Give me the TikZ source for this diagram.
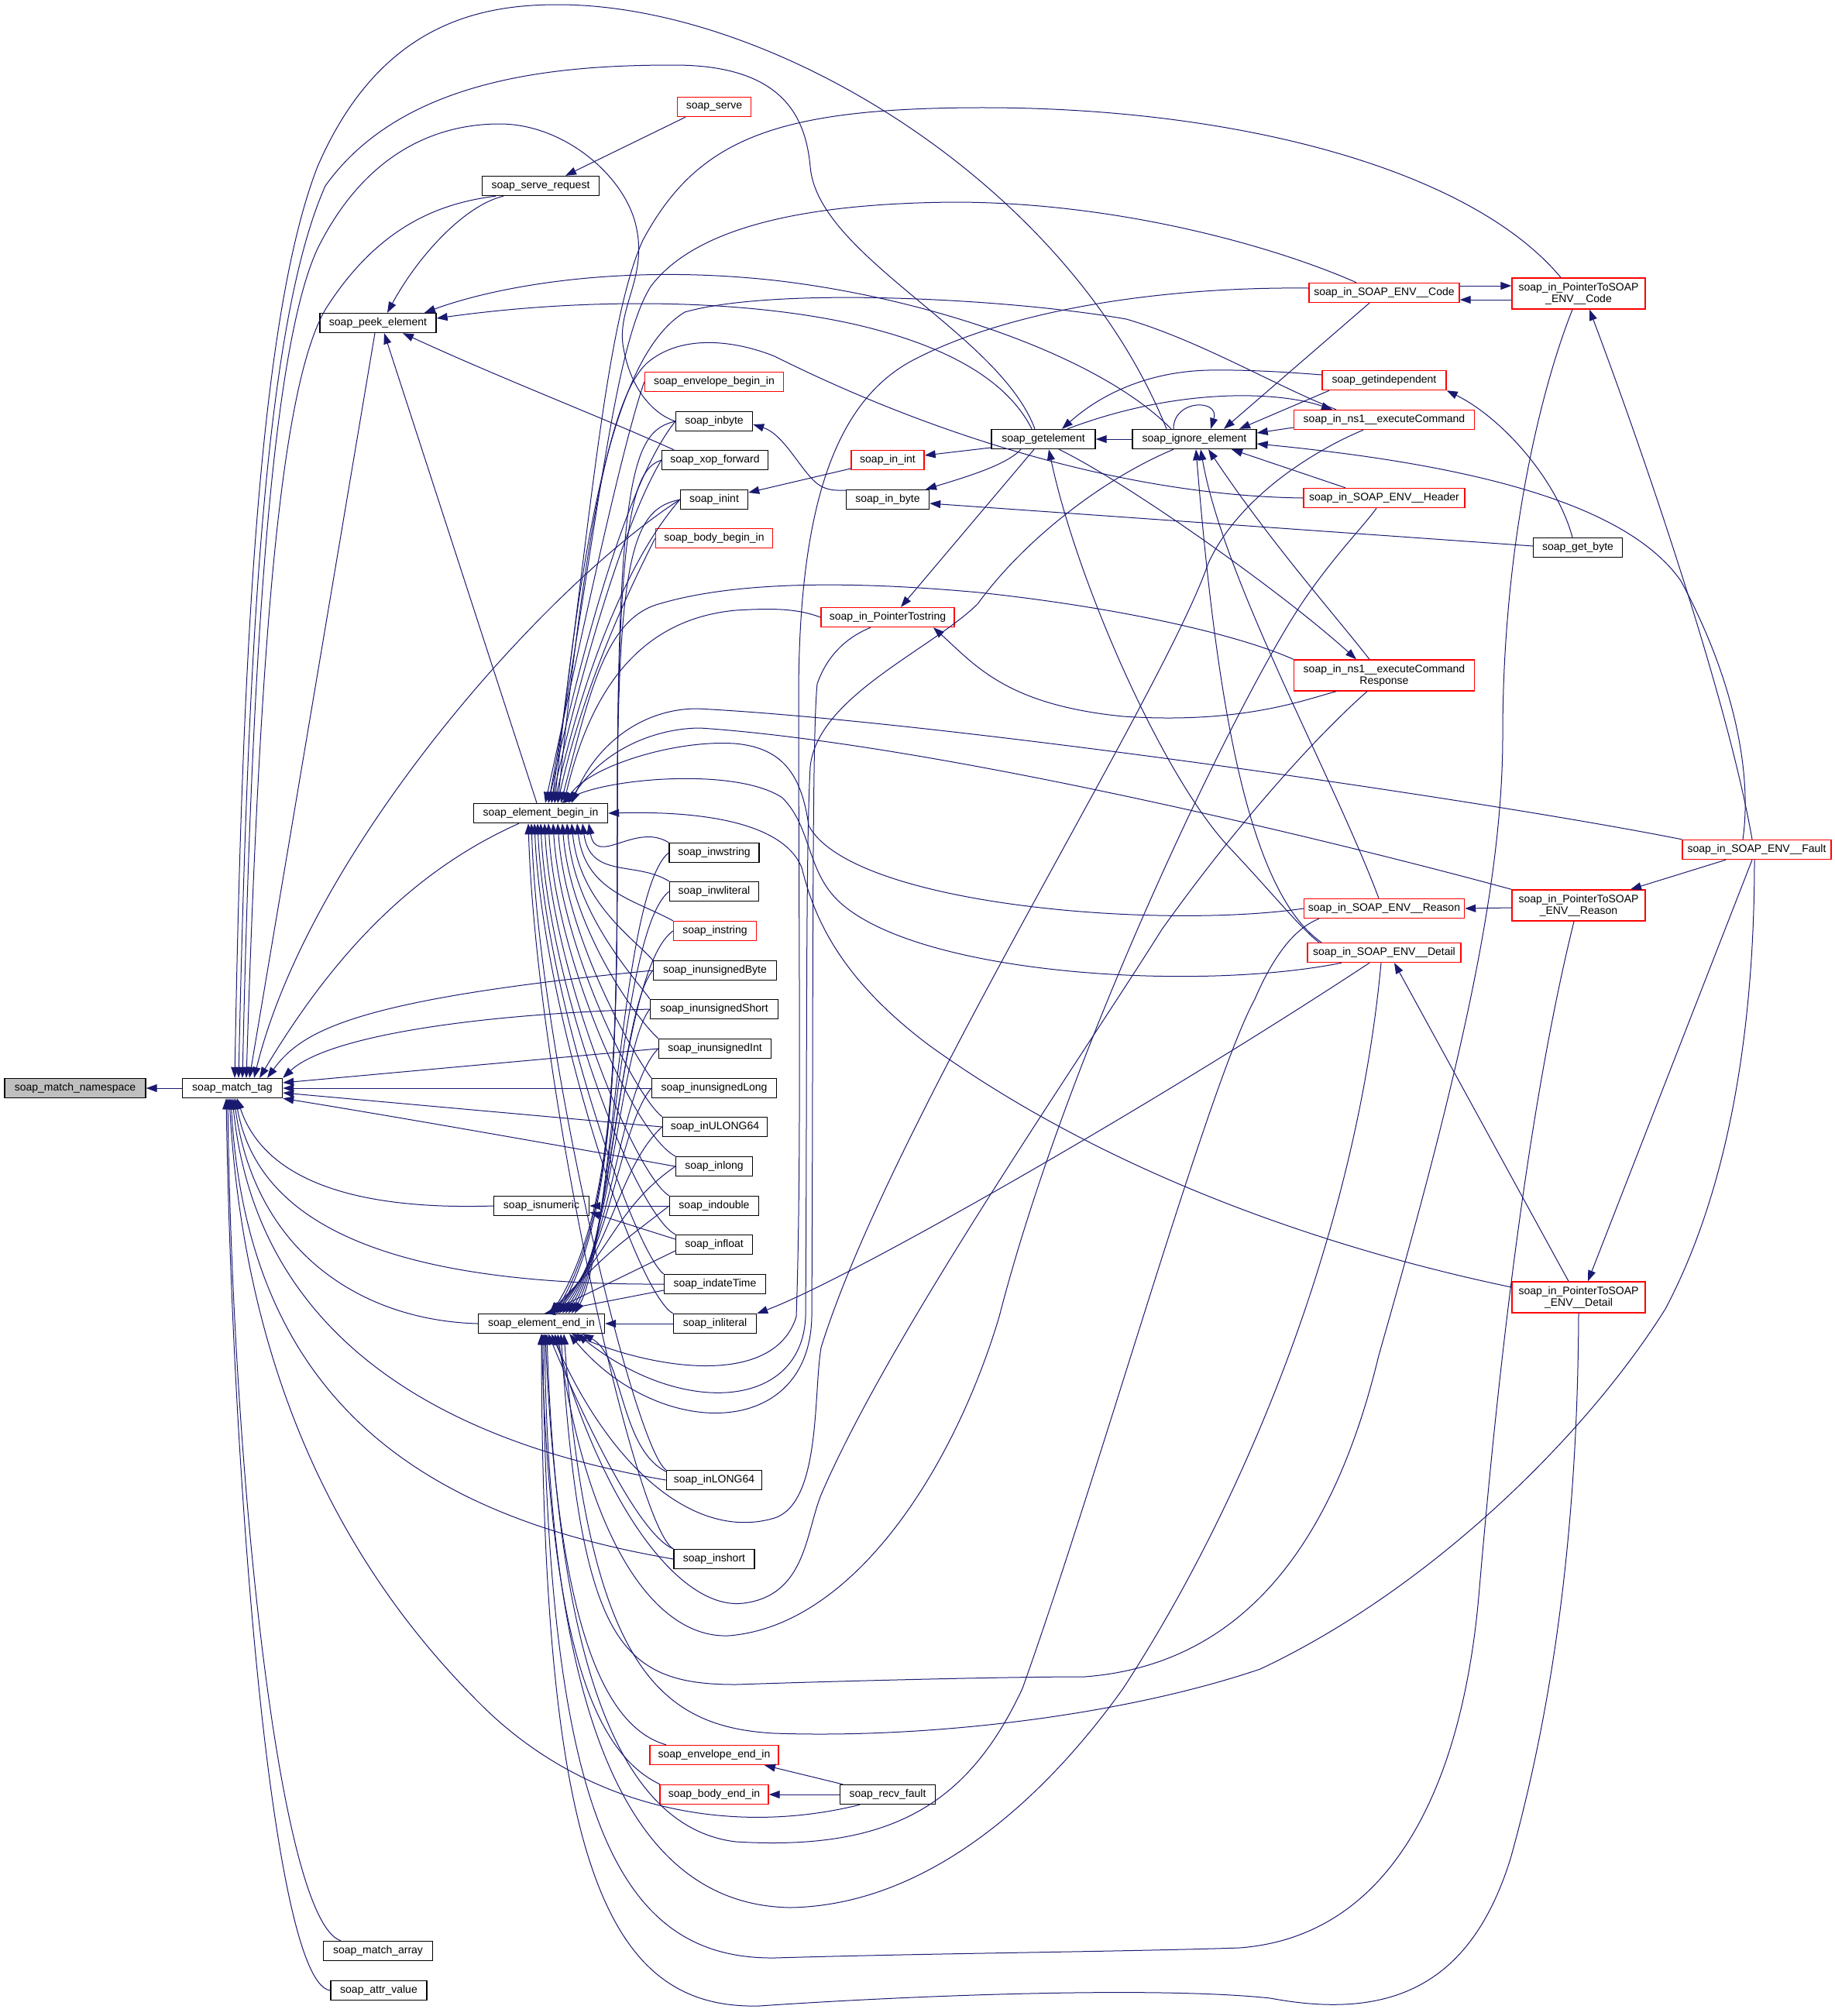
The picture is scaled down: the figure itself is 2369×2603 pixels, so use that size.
\documentclass[tikz,border=0pt]{standalone}
\usepackage{fontspec}
\setmainfont{Liberation Sans}
\usepackage{tikz}
\usetikzlibrary{arrows.meta}
\definecolor{kante}{HTML}{191970}
\definecolor{rand}{HTML}{FF0000}
\definecolor{grau}{HTML}{BFBFBF}

\begin{document}
\begin{tikzpicture}[x=0.5pt, y=-0.5pt,
    >={Triangle[length=7pt,width=5pt]},   %Pfeilspitzen
    fkt/.style={draw=black, line width=0.7pt, rectangle, inner sep=1pt, minimum height=12.5pt, font=\fontsize{7}{7.5}\selectfont},
    fktrot/.style={fkt, draw=rand},
    fktzwei/.style={fktrot, minimum height=20pt, align=center},
    aufruf/.style={draw=kante, line width=0.5pt, <-}]
  \useasboundingbox (0,0) rectangle (2369,2603);
  % Knoten links
  \node[fkt, fill=grau, minimum width=91pt] (ns) at (97,1405) {soap\_match\_namespace};
  \node[fkt, minimum width=64.5pt] (tag) at (300,1405) {soap\_match\_tag};
  \node[fkt, minimum width=75pt] (peek) at (488,417) {soap\_peek\_element};
  \node[fkt, minimum width=70.5pt] (marray) at (488,2519) {soap\_match\_array};
  \node[fkt, minimum width=62pt] (attrv) at (489,2570) {soap\_attr\_value};
  \node[fkt, minimum width=75.5pt] (servereq) at (698,240) {soap\_serve\_request};
  \node[fkt, minimum width=86.5pt] (begin) at (698,1050) {soap\_element\_begin\_in};
  \node[fkt, minimum width=61.5pt] (isnum) at (699,1557) {soap\_isnumeric};
  \node[fkt, minimum width=81.5pt] (endin) at (699,1709) {soap\_element\_end\_in};
  % Spalte der soap_in... Funktionen
  \node[fktrot, minimum width=47.5pt] (serve) at (922,138) {soap\_serve};
  \node[fktrot, minimum width=89.5pt] (envbeg) at (922,493) {soap\_envelope\_begin\_in};
  \node[fkt, minimum width=49.5pt] (inbyte) at (922,544) {soap\_inbyte};
  \node[fkt, minimum width=68.5pt] (xop) at (923,594) {soap\_xop\_forward};
  \node[fkt, minimum width=43.5pt] (inint) at (922,645) {soap\_inint};
  \node[fktrot, minimum width=75.5pt] (bodybeg) at (922,695) {soap\_body\_begin\_in};
  \node[fkt, minimum width=58pt] (inwstring) at (922,1101) {soap\_inwstring};
  \node[fkt, minimum width=57.5pt] (inwliteral) at (922,1151) {soap\_inwliteral};
  \node[fktrot, minimum width=53.5pt] (instring) at (923,1202) {soap\_instring};
  \node[fkt, minimum width=79.5pt] (inuByte) at (923,1253) {soap\_inunsignedByte};
  \node[fkt, minimum width=82.5pt] (inuShort) at (922,1303) {soap\_inunsignedShort};
  \node[fkt, minimum width=72.5pt] (inuInt) at (923,1354) {soap\_inunsignedInt};
  \node[fkt, minimum width=80.5pt] (inuLong) at (922,1405) {soap\_inunsignedLong};
  \node[fkt, minimum width=67.5pt] (inULONG) at (923,1455) {soap\_inULONG64};
  \node[fkt, minimum width=49.5pt] (inlong) at (922,1506) {soap\_inlong};
  \node[fkt, minimum width=57.5pt] (indouble) at (922,1557) {soap\_indouble};
  \node[fkt, minimum width=49.5pt] (infloat) at (922,1607) {soap\_infloat};
  \node[fkt, minimum width=65.5pt] (indate) at (923,1658) {soap\_indateTime};
  \node[fkt, minimum width=53.5pt] (inliteral) at (923,1709) {soap\_inliteral};
  \node[fkt, minimum width=61.5pt] (inLONG) at (922,1911) {soap\_inLONG64};
  \node[fkt, minimum width=52pt] (inshort) at (922,2013) {soap\_inshort};
  \node[fktrot, minimum width=83pt] (envend) at (922,2266) {soap\_envelope\_end\_in};
  \node[fktrot, minimum width=70pt] (bodyend) at (922,2317) {soap\_body\_end\_in};
  % Mitte
  \node[fkt, minimum width=61.5pt] (recvfault) at (1146,2317) {soap\_recv\_fault};
  \node[fktrot, minimum width=47pt] (inxint) at (1146,594) {soap\_in\_int};
  \node[fkt, minimum width=53.5pt] (inxbyte) at (1146,645) {soap\_in\_byte};
  \node[fktrot, minimum width=86pt] (ptrstr) at (1146,797) {soap\_in\_PointerTostring};
  \node[fkt, minimum width=67pt] (getel) at (1347,567) {soap\_getelement};
  \node[fkt, minimum width=80pt] (ignore) at (1542,567) {soap\_ignore\_element};
  % rechte Seite
  \node[fktrot, minimum width=97pt] (code) at (1787,378) {soap\_in\_SOAP\_ENV\_\_Code};
  \node[fktrot, minimum width=80pt] (getindep) at (1787,491) {soap\_getindependent};
  \node[fktrot, minimum width=116.5pt] (nscmd) at (1787,542) {soap\_in\_ns1\_\_executeCommand};
  \node[fktrot, minimum width=104pt] (header) at (1787,643) {soap\_in\_SOAP\_ENV\_\_Header};
  \node[fktzwei, minimum width=116.5pt] (nsresp) at (1787,872) {soap\_in\_ns1\_\_executeCommand\\Response};
  \node[fktrot, minimum width=103.5pt] (reason) at (1787,1173) {soap\_in\_SOAP\_ENV\_\_Reason};
  \node[fktrot, minimum width=99pt] (detail) at (1787,1230) {soap\_in\_SOAP\_ENV\_\_Detail};
  \node[fkt, minimum width=57.5pt] (getbyte) at (2037,707) {soap\_get\_byte};
  \node[fktzwei, minimum width=86pt] (ptrcode) at (2038,379) {soap\_in\_PointerToSOAP\\\_ENV\_\_Code};
  \node[fktzwei, minimum width=86pt] (ptrreason) at (2038,1169) {soap\_in\_PointerToSOAP\\\_ENV\_\_Reason};
  \node[fktzwei, minimum width=86pt] (ptrdetail) at (2038,1675) {soap\_in\_PointerToSOAP\\\_ENV\_\_Detail};
  \node[fktrot, minimum width=96pt] (fault) at (2268,1097) {soap\_in\_SOAP\_ENV\_\_Fault};

  % Aufrufe von soap_match_tag
  \draw[aufruf] (ns.east) -- (tag.west);
  \draw[aufruf] (tag.north -| 303,0) .. controls (312,900) and (330,420) .. (410,215) .. controls (490,30) and (620,6) .. (720,6) .. controls (1000,6) and (1380,240) .. (ignore.north -| 1506,0);
  \draw[aufruf] (tag.north -| 308,0) .. controls (320,850) and (340,420) .. (420,240) .. controls (520,100) and (720,84) .. (870,84) .. controls (1010,84) and (1040,150) .. (1046,215) .. controls (1055,330) and (1290,430) .. (getel.north -| 1336,0);
  \draw[aufruf] (tag.north -| 313,0) .. controls (325,850) and (350,450) .. (410,321) .. controls (470,200) and (560,160) .. (645,160) .. controls (730,160) and (810,230) .. (822,296) .. controls (835,360) and (795,400) .. (805,450) .. controls (815,505) and (845,535) .. (inbyte.west);
  \draw[aufruf] (tag.north -| 318,0) .. controls (335,850) and (360,500) .. (421,398) .. controls (490,290) and (570,262) .. (servereq.south -| 640,0);
  \draw[aufruf] (tag.north -| 322,0) -- (peek.south -| 484,0);
  \draw[aufruf] (tag.north -| 328,0) .. controls (400,1100) and (700,760) .. (inint.west);
  \draw[aufruf] (tag.north -| 335,0) .. controls (420,1250) and (520,1130) .. (begin.south -| 670,0);
  \draw[aufruf] (tag.north -| 345,0) .. controls (390,1330) and (460,1290) .. (inuByte.west);
  \draw[aufruf] (tag.north east) .. controls (420,1340) and (600,1310) .. (inuShort.west);
  \draw[aufruf] (tag.east |- 0,1398) -- (inuInt.west);
  \draw[aufruf] (tag.east) -- (inuLong.west);
  \draw[aufruf] (tag.east |- 0,1411) -- (inULONG.west);
  \draw[aufruf] (tag.south east) .. controls (500,1440) and (700,1475) .. (inlong.west);
  \draw[aufruf] (tag.south -| 306,0) .. controls (340,1520) and (450,1563) .. (isnum.west);
  \draw[aufruf] (tag.south -| 304,0) .. controls (330,1560) and (460,1660) .. (indate.west);
  \draw[aufruf] (tag.south -| 302,0) .. controls (330,1620) and (470,1705) .. (endin.west);
  \draw[aufruf] (tag.south -| 300,0) .. controls (330,1720) and (560,1860) .. (inLONG.west);
  \draw[aufruf] (tag.south -| 298,0) .. controls (320,1820) and (560,1960) .. (inshort.west);
  \draw[aufruf] (tag.south -| 296,0) .. controls (320,1850) and (500,2080) .. (620,2200) .. controls (760,2340) and (950,2370) .. (recvfault.south -| 1110,0);
  \draw[aufruf] (tag.south -| 294,0) .. controls (300,1900) and (360,2480) .. (marray.north -| 440,0);
  \draw[aufruf] (tag.south -| 292,0) .. controls (300,1900) and (350,2560) .. (attrv.west);

  % Aufrufe von soap_peek_element
  \draw[aufruf] (servereq.north -| 730,0) -- (serve.south -| 885,0);
  \draw[aufruf] (peek.north -| 500,0) .. controls (540,330) and (600,265) .. (servereq.south -| 650,0);
  \draw[aufruf] (peek.south -| 496,0) -- (begin.north -| 693,0);
  \draw[aufruf] (peek.south -| 520,0) .. controls (650,490) and (780,540) .. (xop.north -| 870,0);
  \draw[aufruf] (peek.north -| 548,0) .. controls (640,370) and (800,340) .. (1000,362) .. controls (1200,385) and (1420,460) .. (ignore.north -| 1512,0);
  \draw[aufruf] (peek.east |- 0,411) .. controls (750,385) and (950,385) .. (1100,418) .. controls (1220,445) and (1300,490) .. (getel.north -| 1332,0);

  % soap_element_begin_in
  \foreach \n/\y/\bx in {envbeg/493/704, inbyte/544/708, xop/594/712, inint/645/716, bodybeg/695/720}
    \draw[aufruf] (begin.north -| \bx,0) .. controls (\bx+30,900) and (800,\y+90) .. (\n.west);
  \foreach \n/\y/\bx in {inwstring/1101/760, inwliteral/1151/752, instring/1202/745, inuByte/1253/738, inuShort/1303/732, inuInt/1354/726, inuLong/1405/720, inULONG/1455/714, inlong/1506/708, indouble/1557/703, infloat/1607/698, indate/1658/694, inliteral/1709/690, inLONG/1911/686, inshort/2013/682}
    \draw[aufruf] (begin.south -| \bx,0) .. controls (\bx+10,1120+0.3*\y-330) and (820,\y-40) .. (\n.north west);
  \draw[aufruf] (begin.north -| 738,0) .. controls (770,960) and (830,915) .. (900,915) .. controls (1200,930) and (1900,1030) .. (fault.north west);
  \draw[aufruf] (begin.north -| 734,0) .. controls (780,965) and (850,940) .. (904,940) .. controls (1200,960) and (1700,1080) .. (ptrreason.north west);
  \draw[aufruf] (begin.north -| 729,0) .. controls (760,990) and (870,955) .. (948,960) .. controls (1010,965) and (1035,1000) .. (1044,1066) .. controls (1100,1170) and (1500,1200) .. (reason.west);
  \draw[aufruf] (begin.north -| 725,0) .. controls (780,1005) and (950,990) .. (1010,1030) .. controls (1050,1070) and (1040,1130) .. (1090,1170) .. controls (1200,1260) and (1550,1280) .. (detail.south -| 1732,0);
  \draw[aufruf] (begin.east) .. controls (900,1047) and (1010,1060) .. (1035,1120) .. controls (1050,1180) and (1080,1260) .. (1200,1350) .. controls (1450,1530) and (1750,1620) .. (ptrdetail.west |- 0,1662);
  \draw[aufruf] (begin.north -| 712,0) .. controls (760,700) and (780,420) .. (830,310) .. controls (900,180) and (1000,140) .. (1262,139) .. controls (1600,138) and (1900,220) .. (ptrcode.north -| 2015,0);
  \draw[aufruf] (begin.north -| 708,0) .. controls (770,700) and (790,450) .. (840,370) .. controls (900,290) and (1050,262) .. (1236,261) .. controls (1450,262) and (1650,320) .. (code.north -| 1751,0);
  \draw[aufruf] (begin.north -| 716,0) .. controls (750,700) and (790,460) .. (884,403) .. controls (1000,370) and (1300,385) .. (1454,412) .. controls (1550,440) and (1650,500) .. (nscmd.north -| 1725,0);
  \draw[aufruf] (begin.north -| 720,0) .. controls (750,750) and (780,520) .. (835,469) .. controls (880,430) and (950,440) .. (1000,460) .. controls (1200,560) and (1450,640) .. (header.west);
  \draw[aufruf] (begin.north -| 724,0) .. controls (760,900) and (780,800) .. (850,780) .. controls (950,750) and (1100,750) .. (1264,765) .. controls (1450,785) and (1600,820) .. (nsresp.north west);
  \draw[aufruf] (begin.north -| 728,0) .. controls (760,900) and (820,800) .. (950,788) .. controls (1000,785) and (1030,786) .. (ptrstr.west);

  % soap_element_end_in
  \foreach \n/\y/\ex in {inbyte/544/712, xop/594/716, inint/645/720}
    \draw[aufruf] (endin.north -| \ex,0) .. controls (795,1560) and (797,1350) .. (797,1050) .. controls (797,\y+60) and (820,\y+12) .. (\n.west);
  \foreach \n/\y/\ex in {inwstring/1101/742, inwliteral/1151/738, instring/1202/734, inuByte/1253/730, inuShort/1303/726, inuInt/1354/722, inuLong/1405/718, inULONG/1455/715, inlong/1506/712, indouble/1557/709}
    \draw[aufruf] (endin.north -| \ex,0) .. controls (790,1610) and (800,\y+50) .. (\n.west);
  \draw[aufruf] (endin.north -| 706,0) -- (infloat.west |- 0,1615);
  \draw[aufruf] (endin.north -| 703,0) -- (indate.west |- 0,1666);
  \draw[aufruf] (endin.east) -- (inliteral.west);
  \draw[aufruf] (endin.south -| 752,0) .. controls (805,1750) and (800,1870) .. (inLONG.west |- 0,1900);
  \draw[aufruf] (endin.south -| 708,0) .. controls (740,1800) and (820,1980) .. (inshort.north west);
  \draw[aufruf] (endin.south -| 704,0) .. controls (720,2100) and (780,2230) .. (envend.north -| 860,0);
  \draw[aufruf] (endin.south -| 699,0) .. controls (710,2100) and (760,2260) .. (bodyend.north -| 852,0);
  \draw[aufruf] (endin.south -| 738,0) .. controls (850,1770) and (1000,1790) .. (1028,1700) .. controls (1035,1500) and (1031,1200) .. (1031,900) .. controls (1031,650) and (1080,520) .. (1175,467) .. controls (1300,400) and (1500,370) .. (code.west |- 0,372);
  \draw[aufruf] (endin.south -| 745,0) .. controls (880,1830) and (1035,1820) .. (1040,1700) .. controls (1042,1400) and (1040,1100) .. (1046,990) .. controls (1055,900) and (1200,840) .. (1262,780) .. controls (1320,700) and (1420,620) .. (ignore.south -| 1515,0);
  \draw[aufruf] (endin.south -| 735,0) .. controls (850,1860) and (1045,1860) .. (1048,1700) .. controls (1050,1300) and (1048,950) .. (1055,883) .. controls (1070,840) and (1100,820) .. (ptrstr.south -| 1124,0);
  \draw[aufruf] (endin.south -| 712,0) .. controls (790,1900) and (900,1990) .. (1000,1960) .. controls (1060,1940) and (1050,1800) .. (1060,1740) .. controls (1150,1450) and (1500,900) .. (1560,727) .. controls (1600,640) and (1700,580) .. (nscmd.south -| 1760,0);
  \draw[aufruf] (endin.south -| 716,0) .. controls (780,1950) and (880,2080) .. (960,2070) .. controls (1040,2060) and (1040,1980) .. (1060,1930) .. controls (1150,1720) and (1400,1360) .. (1500,1200) .. controls (1600,1060) and (1700,950) .. (nsresp.south -| 1765,0);
  \draw[aufruf] (endin.south -| 720,0) .. controls (760,2000) and (850,2115) .. (940,2112) .. controls (1100,2100) and (1230,1900) .. (1290,1700) .. controls (1380,1350) and (1600,900) .. (1680,780) .. controls (1720,720) and (1760,680) .. (header.south -| 1777,0);
  \draw[aufruf] (endin.south -| 706,0) .. controls (720,2150) and (800,2360) .. (950,2378) .. controls (1150,2390) and (1250,2330) .. (1320,2180) .. controls (1420,1900) and (1560,1400) .. (1620,1290) .. controls (1650,1220) and (1680,1195) .. (reason.south -| 1703,0);
  \draw[aufruf] (endin.south -| 724,0) .. controls (750,2120) and (800,2175) .. (950,2175) .. controls (1100,2170) and (1300,2165) .. (1400,2165) .. controls (1600,2150) and (1720,2000) .. (1780,1750) .. controls (1880,1400) and (1940,1150) .. (1940,950) .. controls (1940,700) and (1990,500) .. (ptrcode.south -| 2030,0);
  \draw[aufruf] (endin.south -| 728,0) .. controls (760,2150) and (850,2230) .. (1000,2238) .. controls (1200,2245) and (1450,2215) .. (1627,2155) .. controls (1850,2050) and (2050,1850) .. (2150,1690) .. controls (2240,1520) and (2265,1300) .. (fault.south -| 2265,0);
  \draw[aufruf] (endin.south -| 703,0) .. controls (710,2300) and (850,2460) .. (1020,2463) .. controls (1200,2460) and (1350,2320) .. (1450,2180) .. controls (1600,1950) and (1750,1600) .. (detail.south -| 1783,0);
  \draw[aufruf] (endin.south -| 701,0) .. controls (705,2350) and (800,2530) .. (1000,2528) .. controls (1200,2522) and (1450,2520) .. (1600,2515) .. controls (1800,2500) and (1890,2300) .. (1910,2050) .. controls (1940,1700) and (1980,1400) .. (ptrreason.south -| 2032,0);
  \draw[aufruf] (endin.south -| 699,0) .. controls (700,2400) and (780,2595) .. (980,2590) .. controls (1200,2575) and (1500,2565) .. (1640,2580) .. controls (1800,2610) and (1900,2560) .. (1950,2400) .. controls (2020,2150) and (2037,1900) .. (ptrdetail.south);

  % kleine Verbindungen
  \draw[aufruf] (isnum.east) -- (indouble.west);
  \draw[aufruf] (isnum.east |- 0,1565) -- (infloat.west |- 0,1600);
  \draw[aufruf] (envend.south -| 987,0) -- (recvfault.north -| 1088,0);
  \draw[aufruf] (bodyend.east) -- (recvfault.west);
  \draw[aufruf] (inint.east |- 0,636) -- (inxint.west |- 0,605);
  \draw[aufruf] (inbyte.east |- 0,548) .. controls (1010,560) and (1030,600) .. (1050,620) .. controls (1065,635) and (1080,633) .. (inxbyte.west |- 0,633);
  \draw[aufruf] (inxint.east |- 0,588) -- (getel.west |- 0,578);
  \draw[aufruf] (inxbyte.north -| 1195,0) .. controls (1250,615) and (1300,600) .. (getel.south -| 1318,0);
  \draw[aufruf] (inxbyte.east |- 0,650) -- (getbyte.west |- 0,705);
  \draw[aufruf] (ptrstr.north -| 1163,0) -- (getel.south -| 1335,0);
  \draw[aufruf] (ptrstr.south -| 1205,0) .. controls (1260,860) and (1300,910) .. (1450,925) .. controls (1600,935) and (1680,905) .. (nsresp.south -| 1725,0);

  % soap_getelement und soap_ignore_element
  \draw[aufruf] (getel.east) -- (ignore.west);
  \draw[aufruf] (ignore.north -| 1563,0) .. controls (1575,515) and (1515,515) .. (ignore.north -| 1515,0);
  \draw[aufruf] (getel.north -| 1371,0) .. controls (1420,510) and (1480,480) .. (1560,478) .. controls (1620,477) and (1680,482) .. (getindep.west |- 0,484);
  \draw[aufruf] (nscmd.north -| 1720,0) .. controls (1650,505) and (1520,500) .. (getel.north -| 1378,0);
  \draw[aufruf] (getel.south -| 1354,0) .. controls (1390,750) and (1500,1000) .. (1585,1092) .. controls (1640,1150) and (1680,1200) .. (detail.north -| 1703,0);
  \draw[aufruf] (nsresp.north -| 1751,0) .. controls (1650,760) and (1450,620) .. (getel.south -| 1367,0);
  \draw[aufruf] (ignore.north -| 1600,0) -- (getindep.south -| 1716,0);
  \draw[aufruf] (ignore.north -| 1580,0) -- (code.south -| 1768,0);
  \draw[aufruf] (ignore.east |- 0,559) -- (nscmd.west |- 0,552);
  \draw[aufruf] (ignore.south -| 1590,0) -- (header.north -| 1737,0);
  \draw[aufruf] (ignore.south -| 1560,0) .. controls (1640,700) and (1720,790) .. (nsresp.north -| 1768,0);
  \draw[aufruf] (ignore.south -| 1550,0) .. controls (1580,750) and (1720,1000) .. (reason.north -| 1780,0);
  \draw[aufruf] (ignore.south -| 1544,0) .. controls (1570,900) and (1610,1150) .. (detail.north -| 1706,0);
  \draw[aufruf] (ignore.east |- 0,573) .. controls (1900,600) and (2100,650) .. (2170,750) .. controls (2240,880) and (2262,1000) .. (fault.north -| 2250,0);
  \draw[aufruf] (getindep.south east) .. controls (1940,540) and (2010,620) .. (getbyte.north -| 2030,0);

  % SOAP_ENV Funktionen
  \draw[aufruf] (ptrcode.west |- 0,369) -- (code.east |- 0,369);
  \draw[aufruf] (code.east |- 0,387) -- (ptrcode.west |- 0,387);
  \draw[aufruf] (ptrcode.south -| 2052,0) .. controls (2120,580) and (2230,900) .. (fault.north -| 2262,0);
  \draw[aufruf] (ptrreason.north -| 2105,0) -- (fault.south -| 2228,0);
  \draw[aufruf] (reason.east) -- (ptrreason.west |- 0,1172);
  \draw[aufruf] (ptrdetail.north -| 2050,0) -- (fault.south -| 2262,0);
  \draw[aufruf] (detail.south -| 1800,0) -- (ptrdetail.north -| 2025,0);
  \draw[aufruf] (inliteral.east |- 0,1696) .. controls (1100,1650) and (1500,1420) .. (detail.south -| 1768,0);
\end{tikzpicture}
\end{document}
